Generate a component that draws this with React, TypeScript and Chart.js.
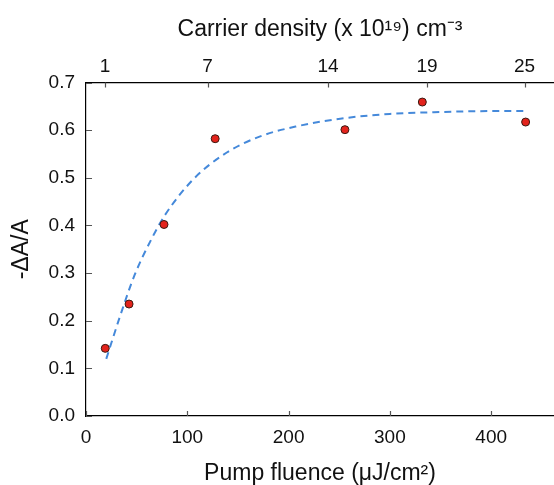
import React, { useEffect, useRef } from "react";
import { Chart, registerables } from "chart.js";

Chart.register(...registerables);

// Measured data points (pump fluence µJ/cm², -ΔA/A)
const fluence = [19, 42.5, 77, 127.5, 255.6, 332, 434];
const signal = [0.142, 0.235, 0.402, 0.582, 0.601, 0.659, 0.617];

// Fit curve
const fitX = [20, 34, 48, 65, 78, 106, 139, 172, 208, 251, 300, 350, 400, 434];
const fitY = [0.12, 0.212, 0.296, 0.373, 0.422, 0.497, 0.553, 0.587, 0.608, 0.624, 0.634, 0.638, 0.64, 0.64];

// Top axis: carrier density labels placed at matching fluence values
const topTickPositions = [18.8, 120, 239, 336.7, 433];
const topTickLabels = ["1", "7", "14", "19", "25"];

const FONT = "'Liberation Sans', Arial, sans-serif";

const innerTicks = {
  id: "innerTicks",
  afterDraw(chart: any) {
    const ctx = chart.ctx;
    const area = chart.chartArea;
    const len = 5;
    const draw = (id: string, side: string) => {
      const s = chart.scales[id];
      if (!s) return;
      const ticks = s.getTicks ? s.getTicks() : s.ticks;
      ctx.save();
      ctx.strokeStyle = "#555";
      ctx.lineWidth = 1.2;
      ctx.beginPath();
      ticks.forEach((t: any) => {
        const p = Math.round(s.getPixelForValue(t.value)) + 0.5;
        if (side === "bottom") {
          ctx.moveTo(p, area.bottom);
          ctx.lineTo(p, area.bottom - len);
        } else if (side === "top") {
          ctx.moveTo(p, area.top);
          ctx.lineTo(p, area.top + len);
        } else {
          ctx.moveTo(area.left, p);
          ctx.lineTo(area.left + len + 1, p);
        }
      });
      ctx.stroke();
      ctx.restore();
    };
    draw("x", "bottom");
    draw("x2", "top");
    draw("y", "left");
  },
};

export default function App() {
  const ref = useRef<HTMLCanvasElement | null>(null);

  useEffect(() => {
    if (!ref.current) return;
    const tickFont = { family: FONT, size: 19 };
    const titleFont = { family: FONT, size: 23, lineHeight: 1 };
    const gridOpts = {
      drawOnChartArea: false,
      drawTicks: false,
    };
    const chart = new Chart(ref.current, {
      type: "scatter",
      data: {
        datasets: [
          {
            type: "line",
            data: fitX.map((x, i) => ({ x, y: fitY[i] })),
            borderColor: "#4589da",
            borderWidth: 2,
            borderDash: [7, 5],
            pointRadius: 0,
            fill: false,
            cubicInterpolationMode: "monotone",
            order: 2,
          } as any,
          {
            data: fluence.map((x, i) => ({ x, y: signal[i] })),
            backgroundColor: "#e3231c",
            borderColor: "#3a1a12",
            borderWidth: 1,
            pointRadius: 4,
            order: 1,
          },
        ],
      },
      plugins: [innerTicks],
      options: {
        animation: false,
        responsive: true,
        maintainAspectRatio: false,
        layout: { autoPadding: false, padding: { left: 0, right: 0, top: 0, bottom: 0 } },
        plugins: { legend: { display: false }, tooltip: { enabled: false } },
        scales: {
          x: {
            type: "linear",
            position: "bottom",
            min: 0,
            max: 462,
            ticks: {
              stepSize: 100,
              includeBounds: false,
              font: tickFont,
              color: "#111",
              padding: 10,
              maxRotation: 0,
            },
            grid: gridOpts,
            border: { display: true, color: "#000", width: 1.2 },
            title: {
              display: true,
              text: "Pump fluence (\u03bcJ/cm\u00b2)",
              font: titleFont,
              color: "#111",
              padding: { top: 3.2, bottom: 0 },
            },
          },
          x2: {
            type: "linear",
            position: "top",
            min: 0,
            max: 462,
            afterBuildTicks: (scale: any) => {
              scale.ticks = topTickPositions.map((v) => ({ value: v }));
            },
            ticks: {
              font: tickFont,
              color: "#111",
              padding: 4.8,
              maxRotation: 0,
              callback: (_v: any, i: number) => topTickLabels[i],
            },
            grid: gridOpts,
            border: { display: true, color: "#000", width: 1.2 },
            title: {
              display: true,
              text: "Carrier density (x 10\u00b9\u2079) cm\u207b\u00b3",
              font: titleFont,
              color: "#111",
              padding: { top: 18.5, bottom: 8.6 },
            },
          },
          y: {
            type: "linear",
            min: 0,
            max: 0.7,
            ticks: {
              stepSize: 0.1,
              font: tickFont,
              color: "#111",
              padding: 11,
              callback: (v: any) => Number(v).toFixed(1),
            },
            grid: gridOpts,
            border: { display: true, color: "#000", width: 1.2 },
            title: {
              display: true,
              text: "-\u0394A/A",
              font: titleFont,
              color: "#111",
              padding: { top: 10.5, bottom: 4.1 },
            },
          },
        },
      },
    } as any);
    return () => chart.destroy();
  }, []);

  return (
    <div style={{ position: "fixed", left: 0, top: 0, width: 554, height: 485, background: "#fff" }}>
      <canvas ref={ref} />
    </div>
  );
}
